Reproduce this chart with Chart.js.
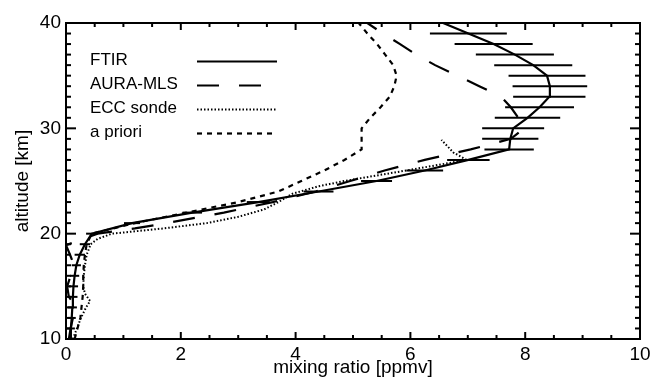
<!DOCTYPE html>
<html><head><meta charset="utf-8">
<script src="https://cdn.jsdelivr.net/npm/chart.js@4/dist/chart.umd.min.js"></script>
<style>html,body{margin:0;padding:0;background:#fff}#wrap{width:662px;height:378px}</style>
</head><body><div id="wrap"><canvas id="c" width="662" height="378"></canvas></div>
<script>
// ---- tick labels ----
const xTickLabels = [0, 2, 4, 6, 8, 10];
const yTickLabels = [10, 20, 30, 40];
const seriesNames = ['FTIR', 'AURA-MLS', 'ECC sonde', 'a priori'];

// ---- FTIR (altitude km, mixing ratio ppmv, error ppmv) ----
const ftirAlt = [10,11,12,13,14,15,16,17,18,19,20,21,22,23,24,25,26,27,28,29,30,31,32,33,34,35,36,37,38,39,40];
const ftirVal = [0.07,0.085,0.10,0.11,0.12,0.13,0.15,0.18,0.24,0.33,0.45,1.15,2.2,3.35,4.40,5.41,6.25,7.01,7.72,7.74,7.79,8.04,8.25,8.42,8.43,8.38,8.14,7.82,7.45,7.01,6.57];
const ftirErr = [0.07,0.07,0.07,0.08,0.08,0.08,0.08,0.08,0.09,0.09,0.10,0.14,0.17,0.20,0.26,0.27,0.32,0.37,0.43,0.49,0.54,0.57,0.60,0.63,0.65,0.67,0.68,0.68,0.68,0.67,0.67];

// ---- AURA-MLS ----
const mlsAlt = [10,11,12,13,14,15,16,17,18,18.9,20,20.5,21,22,23,24,25,26,27,28,29,30,31,32,33,34,35,36,37,38,39,40];
const mlsVal = [0.05,0.08,0.12,0.18,0.05,0.02,0.08,0.14,0.07,0.0,0.55,1.2,1.75,2.75,3.6,4.35,4.95,5.55,6.25,7.05,7.75,7.98,7.88,7.75,7.58,7.2,6.82,6.43,6.1,5.82,5.52,5.25];

// ---- ECC sonde ----
const eccAlt = [10,11,12,13,13.6,14.3,15,16,17,18,19,19.5,20,20.5,21,21.6,22.3,23,23.8,24.5,25,26,27,27.7,28.9];
const eccVal = [0.12,0.19,0.26,0.35,0.42,0.33,0.30,0.31,0.33,0.36,0.43,0.55,0.80,1.7,2.45,3.0,3.45,3.7,3.95,4.4,4.85,5.93,6.98,6.75,6.54];

// ---- a priori ----
const aprAlt = [10,11,12,13,14,15,16,17,18,19,20,21,22,23,24,25,26,27,28,29,30,31,32,33,34,35,36,37,38,39,40];
const aprVal = [0.15,0.20,0.25,0.27,0.29,0.30,0.30,0.31,0.33,0.36,0.45,1.2,2.1,3.0,3.7,4.1,4.5,4.85,5.15,5.15,5.15,5.30,5.48,5.64,5.72,5.76,5.70,5.56,5.42,5.25,5.10];

const pts = (alt, val) => alt.map((a, i) => ({x: val[i], y: a}));

const styles = [
  {borderWidth: 2.2, borderDash: []},
  {borderWidth: 2.2, borderDash: [22, 20]},
  {borderWidth: 2, borderDash: [1.5, 2]},
  {borderWidth: 2.2, borderDash: [5, 5]}
];

const mainSets = [
  pts(ftirAlt, ftirVal), pts(mlsAlt, mlsVal), pts(eccAlt, eccVal), pts(aprAlt, aprVal)
].map((d, i) => ({
  label: seriesNames[i], data: d, showLine: true, borderColor: '#000',
  backgroundColor: '#000', pointRadius: 0, tension: 0, fill: false,
  borderWidth: styles[i].borderWidth, borderDash: styles[i].borderDash
}));

const errSets = ftirAlt.map((a, i) => ({
  label: '', data: [{x: ftirVal[i] - ftirErr[i], y: a}, {x: ftirVal[i] + ftirErr[i], y: a}],
  showLine: true, borderColor: '#000', borderWidth: 2, pointRadius: 0
}));

Chart.defaults.font.family = "'Liberation Sans', Arial, Helvetica, sans-serif";
Chart.defaults.color = '#000';

const inTicks = {
  id: 'inTicks',
  afterDraw(chart) {
    const {ctx, chartArea: a, scales: {x, y}} = chart;
    ctx.save();
    ctx.strokeStyle = '#000';
    ctx.lineWidth = 2;
    const seg = (x1, y1, x2, y2) => { ctx.beginPath(); ctx.moveTo(x1, y1); ctx.lineTo(x2, y2); ctx.stroke(); };
    for (let k = 0; k <= 20; k++) {
      const v = k * 0.5, px = x.getPixelForValue(v);
      const L = (k % 4 === 0) ? 7 : 4;
      seg(px, a.bottom, px, a.bottom - L);
      seg(px, a.top, px, a.top + L);
    }
    for (let v = 10; v <= 40; v++) {
      const py = y.getPixelForValue(v);
      const L = (v % 10 === 0) ? 10 : 5;
      seg(a.left, py, a.left + L, py);
      seg(a.right, py, a.right - L, py);
    }
    ctx.restore();
  }
};

const legendBox = {
  id: 'legendBox',
  afterDraw(chart) {
    const {ctx, chartArea: a} = chart;
    ctx.save();
    ctx.font = "17px 'Liberation Sans', Arial, sans-serif";
    ctx.fillStyle = '#000';
    ctx.textBaseline = 'middle';
    ctx.textAlign = 'left';
    const tx = a.left + 24, lx1 = a.left + 131, lx2 = a.left + 211;
    seriesNames.forEach((n, i) => {
      const yy = a.top + 38.5 + i * 24;
      ctx.fillText(n, tx, yy - 1);
      ctx.strokeStyle = '#000';
      ctx.lineWidth = styles[i].borderWidth;
      ctx.setLineDash(styles[i].borderDash);
      ctx.beginPath(); ctx.moveTo(lx1, yy); ctx.lineTo(lx2, yy); ctx.stroke();
    });
    ctx.restore();
  }
};

new Chart(document.getElementById('c'), {
  type: 'scatter',
  data: {datasets: [...mainSets, ...errSets]},
  options: {
    responsive: false, animation: false, devicePixelRatio: 1,
    layout: {padding: {left: 0, right: 22, top: 23, bottom: 0}},
    plugins: {legend: {display: false}, tooltip: {enabled: false}},
    scales: {
      x: {
        type: 'linear', position: 'bottom', min: 0, max: 10,
        afterBuildTicks: s => { s.ticks = xTickLabels.map(v => ({value: v})); },
        ticks: {font: {size: 19}, color: '#000', padding: 4, maxRotation: 0, autoSkip: false},
        grid: {display: false, drawTicks: false},
        border: {display: true, color: '#000', width: 2},
        title: {display: true, text: 'mixing ratio [ppmv]', font: {size: 19}, color: '#000', padding: {top: 0, bottom: -1}},
        afterFit: s => { s.height = 39; }
      },
      y: {
        type: 'linear', position: 'left', min: 10, max: 40,
        afterBuildTicks: s => { s.ticks = yTickLabels.map(v => ({value: v})); },
        ticks: {font: {size: 19}, color: '#000', padding: 5, autoSkip: false},
        grid: {display: false, drawTicks: false},
        border: {display: true, color: '#000', width: 2},
        title: {display: true, text: 'altitude [km]', font: {size: 19}, color: '#000', padding: {top: 11, bottom: 0}},
        afterFit: s => { s.width = 66; }
      },
      x2: {
        type: 'linear', position: 'top', min: 0, max: 10,
        ticks: {display: false}, grid: {display: false, drawTicks: false},
        border: {display: true, color: '#000', width: 2},
        afterFit: s => { s.height = 0; }
      },
      y2: {
        type: 'linear', position: 'right', min: 10, max: 40,
        ticks: {display: false}, grid: {display: false, drawTicks: false},
        border: {display: true, color: '#000', width: 2},
        afterFit: s => { s.width = 0; }
      }
    }
  },
  plugins: [inTicks, legendBox]
});
</script>
</body></html>
